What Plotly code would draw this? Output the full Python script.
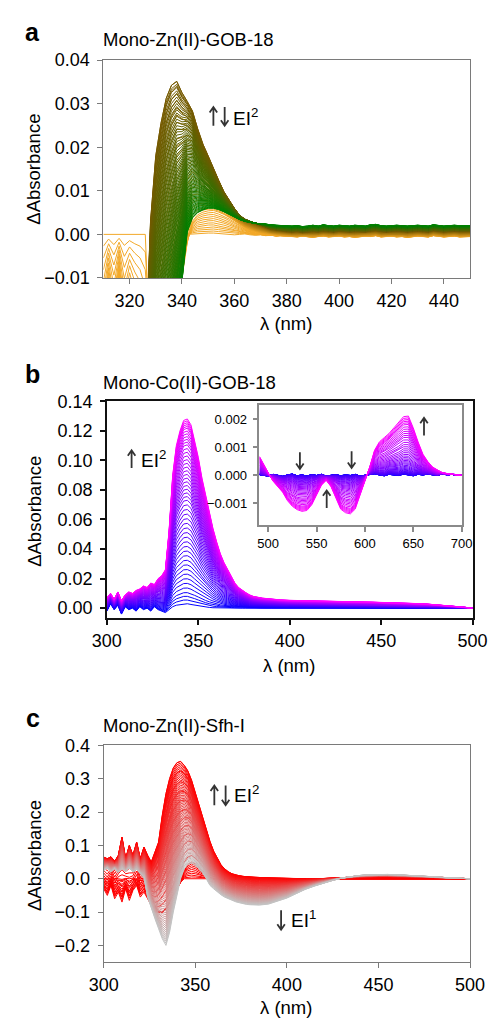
import plotly.graph_objects as go

W, H = 502, 1027
FONT = "Liberation Sans, Arial, Helvetica, sans-serif"

# ---------------- Panel a : Mono-Zn(II)-GOB-18 ----------------
wl_a = list(range(310, 451, 2))

a_orange_first = [
    0.0, 0.0, 0.0, 0.0, 0.0, 0.0, 0.0, 0.0,
    0.0, -0.030, -0.040, -0.030, -0.020, -0.012, -0.006, -0.002,
    0.0, 0.0001, 0.0002, 0.0002, 0.0003, 0.0003, 0.0002, 0.0001,
    0.0, -0.0001, 0.0, 0.0001, -0.0001, -0.0002, -0.0001, -0.0003,
    -0.0002, -0.0004, -0.0002, -0.0003,
    -0.0002, -0.0001, -0.0003, -0.0002, -0.0001,
    -0.0002, 0.0, -0.0001, -0.0002, -0.0001,
    -0.0002, -0.0003, -0.0001, -0.0002, -0.0002,
    -0.0001, 0.0, -0.0002, -0.0003, -0.0002,
    -0.0001, -0.0002, -0.0003, -0.0002, -0.0001,
    -0.0002, -0.0003, 0.0, -0.0002, -0.0003,
    -0.0002, -0.0001, -0.0002, -0.0002, -0.0002,
]
a_orange_last = [
    -0.030, -0.012, -0.026, -0.010, -0.028, -0.016, -0.024, -0.030,
    -0.045, -0.060, -0.060, -0.050, -0.040, -0.030, -0.020, -0.010,
    -0.002, 0.0030, 0.0045, 0.0051, 0.0054, 0.0055, 0.0051, 0.0046,
    0.0039, 0.0031, 0.0023, 0.0016, 0.0010, 0.0006, 0.0003, 0.0001,
    -0.0001, -0.0002, -0.0003, -0.0004,
    -0.0005, -0.0006, -0.0004, -0.0005, -0.0007,
    -0.0005, -0.0004, -0.0006, -0.0005, -0.0004,
    -0.0006, -0.0005, -0.0007, -0.0005, -0.0004,
    -0.0005, -0.0003, -0.0006, -0.0005, -0.0004,
    -0.0006, -0.0005, -0.0007, -0.0005, -0.0004,
    -0.0005, -0.0006, -0.0003, -0.0005, -0.0006,
    -0.0005, -0.0004, -0.0006, -0.0005, -0.0005,
]
a_peak = [
    -0.060, -0.060, -0.060, -0.060, -0.060, -0.060, -0.060, -0.060,
    -0.030, 0.003, 0.018, 0.0255, 0.0312, 0.0342, 0.0351, 0.0325,
    0.0305, 0.0283, 0.0242, 0.0207, 0.0180, 0.0150, 0.0124, 0.0098,
    0.0078, 0.0060, 0.0044, 0.0035, 0.0030, 0.0026, 0.0022, 0.0017,
    0.0012, 0.0010, 0.0008, 0.0007,
    0.0006, 0.0007, 0.0005, 0.0006, 0.0007,
    0.0006, 0.0008, 0.0007, 0.0006, 0.0008,
    0.0007, 0.0006, 0.0007, 0.0007, 0.0006,
    0.0008, 0.0009, 0.0007, 0.0006, 0.0007,
    0.0008, 0.0007, 0.0006, 0.0007, 0.0008,
    0.0007, 0.0006, 0.0009, 0.0007, 0.0006,
    0.0007, 0.0008, 0.0007, 0.0007, 0.0007,
]
a_green = [
    -0.060, -0.060, -0.060, -0.060, -0.060, -0.060, -0.060, -0.060,
    -0.060, -0.058, -0.052, -0.046, -0.040, -0.032, -0.022, -0.0115,
    0.0005, 0.0038, 0.0050, 0.0056, 0.0060, 0.0060, 0.0057, 0.0052,
    0.0046, 0.0040, 0.0034, 0.0030, 0.0027, 0.0025, 0.0025, 0.0023,
    0.0022, 0.0021, 0.0020, 0.0020,
    0.0019, 0.0020, 0.0018, 0.0019, 0.0021,
    0.0019, 0.0022, 0.0020, 0.0019, 0.0021,
    0.0020, 0.0019, 0.0021, 0.0020, 0.0019,
    0.0022, 0.0023, 0.0020, 0.0019, 0.0020,
    0.0021, 0.0020, 0.0019, 0.0020, 0.0021,
    0.0020, 0.0019, 0.0022, 0.0020, 0.0019,
    0.0020, 0.0021, 0.0020, 0.0020, 0.0020,
]
a_orange_steps = [0.0, 0.09, 0.18, 0.27, 0.36, 0.45, 0.55, 0.64, 0.73, 0.82, 0.91, 1.0]
a_rise_steps = [0.03, 0.06, 0.10, 0.13, 0.17, 0.20, 0.24, 0.27, 0.31, 0.34,
                0.38, 0.41, 0.45, 0.48, 0.52, 0.55, 0.59, 0.62, 0.66, 0.69,
                0.73, 0.76, 0.80, 0.83, 0.86, 0.89, 0.92, 0.95, 0.98, 1.00]
a_decay_steps = [0.000, 0.012, 0.025, 0.038, 0.050, 0.063, 0.076, 0.089, 0.101, 0.114,
                 0.127, 0.140, 0.152, 0.165, 0.178, 0.191, 0.203, 0.216, 0.229, 0.242,
                 0.254, 0.267, 0.280, 0.293, 0.305, 0.318, 0.331, 0.344, 0.356, 0.369,
                 0.382, 0.395, 0.407, 0.420, 0.433, 0.446, 0.458, 0.471, 0.484, 0.497,
                 0.509, 0.522, 0.535, 0.548, 0.560, 0.573, 0.586, 0.599, 0.611, 0.624,
                 0.637, 0.650, 0.662, 0.675, 0.688, 0.701, 0.713, 0.726, 0.739, 0.752,
                 0.764, 0.777, 0.790, 0.803, 0.815, 0.828, 0.841, 0.854, 0.866, 0.879,
                 0.892, 0.904, 0.917, 0.930, 0.943, 0.955, 0.968, 0.981, 0.994, 1.000]
a_xticks = [320, 340, 360, 380, 400, 420, 440]
a_yticks = [-0.01, 0.0, 0.01, 0.02, 0.03, 0.04]
a_yticklabels = ["\u22120.01", "0.00", "0.01", "0.02", "0.03", "0.04"]

# ---------------- Panel b : Mono-Co(II)-GOB-18 ----------------
wl_b = list(range(300, 381, 2)) + list(range(385, 501, 5))
b_first = [
    -0.002, 0.003, -0.001, 0.002, -0.004,
    0.001, -0.001, 0.0, -0.002, 0.001,
    -0.001, 0.0, -0.002, 0.001, -0.001,
    -0.002, -0.003, -0.001, 0.001, 0.002,
    0.0025, 0.003, 0.003, 0.0025, 0.002,
    0.0015, 0.001, 0.0007, 0.0005, 0.0003,
    0.0002, 0.0001, 0.0, 0.0001, 0.0,
    0.0, 0.0001, 0.0, 0.0, 0.0,
    0.0,
    0.0, 0.0, 0.0, 0.0, 0.0, 0.0, 0.0, 0.0, 0.0, 0.0, 0.0, 0.0,
    0.0, 0.0, 0.0, 0.0, 0.0, 0.0, 0.0, 0.0, 0.0, 0.0, 0.0, 0.0,
]
b_last = [
    0.007, 0.010, 0.006, 0.011, 0.005,
    0.009, 0.011, 0.010, 0.012, 0.013,
    0.015, 0.014, 0.017, 0.016, 0.020,
    0.022, 0.026, 0.052, 0.090, 0.110,
    0.120, 0.127, 0.128, 0.124, 0.113,
    0.102, 0.088, 0.076, 0.064, 0.054,
    0.045, 0.037, 0.031, 0.026, 0.021,
    0.017, 0.014, 0.012, 0.0105, 0.009,
    0.008,
    0.0068, 0.0061, 0.0056, 0.0053, 0.0051,
    0.0049, 0.0047, 0.0046, 0.0045, 0.0044,
    0.0043, 0.0042, 0.0041, 0.0040, 0.0038,
    0.0036, 0.0034, 0.0031, 0.0028, 0.0024,
    0.0019, 0.0013, 0.0007, 0.0,
]
b_steps = [0.0, 0.02, 0.04, 0.06, 0.085, 0.11, 0.135, 0.16, 0.185, 0.21,
           0.235, 0.26, 0.285, 0.31, 0.335, 0.36, 0.385, 0.41, 0.435, 0.46,
           0.485, 0.51, 0.535, 0.56, 0.58, 0.60, 0.62, 0.64, 0.66, 0.68,
           0.70, 0.72, 0.74, 0.76, 0.78, 0.80, 0.82, 0.84, 0.86, 0.875,
           0.89, 0.905, 0.92, 0.935, 0.95, 0.96, 0.97, 0.98, 0.99, 1.0]
b_xticks = [300, 350, 400, 450, 500]
b_yticks = [0.0, 0.02, 0.04, 0.06, 0.08, 0.10, 0.12, 0.14]
b_yticklabels = ["0.00", "0.02", "0.04", "0.06", "0.08", "0.10", "0.12", "0.14"]

# inset (d-d bands)
wl_i = [491, 495] + list(range(500, 701, 5))
i_first = [
    0.00003, 0.00001, -0.00002, 0.00004, 0.0,
    -0.00003, 0.00002, 0.00005, -0.00001, 0.00002,
    -0.00002, 0.00003, 0.0, 0.00004, -0.00002,
    0.00001, 0.00003, -0.00001, 0.00002, 0.0,
    0.00004, -0.00002, 0.00001, 0.00003, 0.00006,
    0.00002, -0.00001, 0.00004, 0.00002, 0.0,
    0.00005, 0.00003, -0.00001, 0.00004, 0.00002,
    0.00005, 0.00003, 0.0, 0.00006, 0.00002,
    0.00004, 0.00001, 0.00003,
]
i_last = [
    0.00068, 0.00040, 0.00010, -0.00020, -0.00040,
    -0.00060, -0.00090, -0.00110, -0.00122, -0.00128,
    -0.00125, -0.00105, -0.00070, -0.00035, -0.00017,
    -0.00040, -0.00080, -0.00120, -0.00133, -0.00137,
    -0.00120, -0.00070, -0.00020, 0.00030, 0.00090,
    0.00120, 0.00135, 0.00150, 0.00170, 0.00190,
    0.00210, 0.00212, 0.00170, 0.00120, 0.00076,
    0.00050, 0.00030, 0.00020, 0.00010, 0.00007,
    0.00005, 0.00003, 0.0,
]
i_steps = [0.0, 0.0, 0.0001, 0.0002, 0.0006, 0.0013, 0.0025, 0.004, 0.006, 0.009,
           0.013, 0.018, 0.023, 0.030, 0.038, 0.047, 0.057, 0.069, 0.082, 0.097,
           0.114, 0.133, 0.153, 0.176, 0.195, 0.216, 0.238, 0.262, 0.287, 0.314,
           0.343, 0.373, 0.405, 0.439, 0.475, 0.512, 0.551, 0.593, 0.636, 0.670,
           0.705, 0.741, 0.779, 0.817, 0.857, 0.885, 0.913, 0.941, 0.970, 1.0]
i_xticks = [500, 550, 600, 650, 700]
i_yticks = [-0.001, 0.0, 0.001, 0.002]
i_yticklabels = ["\u22120.001", "0.000", "0.001", "0.002"]

# ---------------- Panel c : Mono-Zn(II)-Sfh-I ----------------
wl_c = list(range(300, 381, 2)) + list(range(385, 501, 5))
c_first = [
    0.0, 0.002, -0.001, 0.001, 0.0,
    -0.002, 0.001, 0.0, 0.002, -0.001,
    0.0, 0.001, -0.02, -0.05, -0.08,
    -0.10, -0.10, -0.09, -0.07, -0.05,
    -0.03, -0.01, 0.0, 0.0, 0.0,
    0.0, 0.0, 0.0, 0.0, 0.0,
    0.0, 0.0, 0.0, 0.0, 0.0,
    0.0, 0.0, 0.0, 0.0, 0.0,
    0.0,
    0.0, 0.0, 0.0, 0.0, 0.0, 0.0, 0.0, 0.0, 0.0, 0.0, 0.0, 0.0,
    0.0, 0.0, 0.0, 0.0, 0.0, 0.0, 0.0, 0.0, 0.0, 0.0, 0.0, 0.0,
]
c_hump = [
    -0.03, -0.05, -0.02, -0.06, -0.04,
    -0.07, -0.03, -0.065, -0.035, -0.02,
    -0.055, -0.04, -0.06, -0.08, -0.10,
    -0.10, -0.10, -0.09, -0.07, -0.05,
    -0.03, -0.005, 0.025, 0.043, 0.050,
    0.045, 0.036, 0.025, 0.013, 0.003,
    0.0, 0.0, 0.0, 0.0, 0.0,
    0.0, 0.0, 0.0, 0.0, 0.0,
    0.0,
    0.0, 0.0, 0.0, 0.0, 0.0, 0.0, 0.0, 0.0, 0.0, 0.0, 0.0, 0.0,
    0.0, 0.0, 0.0, 0.0, 0.0, 0.0, 0.0, 0.0, 0.0, 0.0, 0.0, 0.0,
]
c_peak = [
    0.065, 0.060, 0.066, 0.052, 0.070,
    0.125, 0.060, 0.100, 0.070, 0.110,
    0.060, 0.095, 0.070, 0.050, 0.080,
    0.110, 0.190, 0.255, 0.300, 0.332,
    0.348, 0.352, 0.340, 0.323, 0.295,
    0.258, 0.220, 0.180, 0.145, 0.112,
    0.083, 0.060, 0.042, 0.030, 0.021,
    0.015, 0.011, 0.009, 0.007, 0.006,
    0.005,
    0.003, 0.002, 0.001, 0.0, 0.0,
    0.0, 0.0, 0.001, 0.002, 0.003,
    0.004, 0.005, 0.006, 0.006, 0.006,
    0.006, 0.005, 0.005, 0.004, 0.003,
    0.002, 0.001, 0.0005, 0.0,
]
c_final = [
    0.025, 0.032, 0.020, 0.030, 0.018,
    0.030, 0.022, 0.032, 0.020, 0.028,
    0.015, 0.003, -0.055, -0.090, -0.120,
    -0.150, -0.180, -0.200, -0.160, -0.100,
    -0.050, 0.0, 0.030, 0.043, 0.047,
    0.040, 0.030, 0.017, 0.0, -0.020,
    -0.030, -0.040, -0.048, -0.055, -0.060,
    -0.065, -0.069, -0.072, -0.075, -0.077,
    -0.078,
    -0.079, -0.076, -0.068, -0.058, -0.045,
    -0.032, -0.022, -0.013, -0.005, 0.002,
    0.007, 0.010, 0.012, 0.013, 0.013,
    0.012, 0.011, 0.009, 0.008, 0.006,
    0.004, 0.003, 0.001, 0.0,
]
c_p1_steps = [0.0, 0.11, 0.22, 0.33, 0.44, 0.56, 0.67, 0.78, 0.89, 1.0]
c_p2_steps = [0.08, 0.16, 0.25, 0.33, 0.42, 0.50, 0.58, 0.67, 0.75, 0.83, 0.92, 1.0]
c_decay_steps = [0.000, 0.015, 0.029, 0.044, 0.058, 0.073, 0.087, 0.101, 0.116, 0.130,
                 0.145, 0.159, 0.174, 0.188, 0.203, 0.217, 0.232, 0.246, 0.261, 0.275,
                 0.290, 0.304, 0.319, 0.333, 0.348, 0.362, 0.377, 0.391, 0.406, 0.420,
                 0.435, 0.449, 0.464, 0.478, 0.493, 0.507, 0.522, 0.536, 0.551, 0.565,
                 0.580, 0.594, 0.609, 0.623, 0.638, 0.652, 0.667, 0.681, 0.696, 0.710,
                 0.725, 0.739, 0.754, 0.768, 0.783, 0.797, 0.812, 0.826, 0.841, 0.855,
                 0.870, 0.884, 0.899, 0.913, 0.928, 0.942, 0.957, 0.971, 0.986, 1.000]
c_xticks = [300, 350, 400, 450, 500]
c_yticks = [-0.2, -0.1, 0.0, 0.1, 0.2, 0.3, 0.4]
c_yticklabels = ["\u22120.2", "\u22120.1", "0.0", "0.1", "0.2", "0.3", "0.4"]

for arr in (a_orange_first, a_orange_last, a_peak, a_green):
    assert len(arr) == len(wl_a), len(arr)
for arr in (b_first, b_last):
    assert len(arr) == len(wl_b), len(arr)
for arr in (i_first, i_last):
    assert len(arr) == len(wl_i), len(arr)
assert len(i_steps) == len(b_steps)
for arr in (c_first, c_hump, c_peak, c_final):
    assert len(arr) == len(wl_c), len(arr)

# ---------------- helpers ----------------
ORANGE = (242, 168, 40)
BROWN = (118, 90, 0)
GREEN = (0, 128, 0)
BLUE = (0, 0, 255)
MAGENTA = (255, 0, 255)
RED = (255, 0, 0)
GREY = (195, 195, 195)


def blend(s0, s1, t):
    return [u + t * (v - u) for u, v in zip(s0, s1)]


def colour(c0, c1, t):
    return "rgb(%d,%d,%d)" % tuple(round(a + t * (b - a)) for a, b in zip(c0, c1))


fig = go.Figure()


def add(x, y, col, xa, ya, width=1.0):
    fig.add_trace(go.Scatter(x=x, y=y, mode="lines", line=dict(color=col, width=width),
                             xaxis=xa, yaxis=ya, showlegend=False, hoverinfo="skip"))


# panel a traces
for t in a_orange_steps:
    add(wl_a, blend(a_orange_first, a_orange_last, t), colour(ORANGE, ORANGE, t), "x", "y")
for t in a_rise_steps:
    add(wl_a, blend(a_orange_last, a_peak, t), colour(ORANGE, BROWN, t), "x", "y")
for t in a_decay_steps:
    add(wl_a, blend(a_peak, a_green, t), colour(BROWN, GREEN, t), "x", "y")

# panel b traces
n_b = len(b_steps)
for k, t in enumerate(b_steps):
    add(wl_b, blend(b_first, b_last, t), colour(BLUE, MAGENTA, k / (n_b - 1)), "x2", "y2")
for k, t in enumerate(i_steps):
    add(wl_i, blend(i_first, i_last, t), colour(BLUE, MAGENTA, k / (n_b - 1)), "x3", "y3")

# panel c traces
for t in c_p1_steps:
    add(wl_c, blend(c_first, c_hump, t), colour(RED, RED, t), "x4", "y4")
for t in c_p2_steps:
    add(wl_c, blend(c_hump, c_peak, t), colour(RED, RED, t), "x4", "y4")
for t in c_decay_steps:
    add(wl_c, blend(c_peak, c_final, t), colour(RED, GREY, t), "x4", "y4")


def dom_x(l, r):
    return [l / W, r / W]


def dom_y(top, bottom):
    return [1 - bottom / H, 1 - top / H]


def ax(color, lw, size, standoff, **kw):
    d = dict(showline=True, linecolor=color, linewidth=lw, mirror=True,
             ticks="outside", ticklen=5, tickwidth=lw, tickcolor=color,
             showgrid=False, zeroline=False, ticklabelstandoff=standoff,
             tickfont=dict(family=FONT, size=size, color="black"))
    d.update(kw)
    return d


GREY_AX = "#7a7a7a"
TS = 18   # main tick label size
IS = 13   # inset tick label size
fig.update_layout(
    width=W, height=H, margin=dict(l=0, r=0, t=0, b=0),
    paper_bgcolor="white", plot_bgcolor="white", showlegend=False,
    xaxis=ax(GREY_AX, 1.2, TS, 1, domain=dom_x(94, 484), anchor="y", range=[310, 450],
             tickvals=a_xticks),
    yaxis=ax(GREY_AX, 1.2, TS, 4, domain=dom_y(51, 273.3), anchor="x", range=[-0.01, 0.04],
             tickvals=a_yticks, ticktext=a_yticklabels),
    xaxis2=ax("#111111", 1.5, TS, 1, domain=dom_x(97.7, 486.7), anchor="y2", range=[300, 500],
              tickvals=b_xticks),
    yaxis2=ax("#111111", 1.5, TS, 4, domain=dom_y(399, 620), anchor="x2", range=[-0.0066, 0.14],
              tickvals=b_yticks, ticktext=b_yticklabels),
    xaxis3=ax("#8a8a8a", 1.5, IS, 1, domain=dom_x(260, 475.7), anchor="y3", range=[491, 700.7],
              tickvals=i_xticks),
    yaxis3=ax("#8a8a8a", 1.5, IS, 3, domain=dom_y(403.3, 525), anchor="x3", range=[-0.00176, 0.0025],
              tickvals=i_yticks, ticktext=i_yticklabels),
    xaxis4=ax(GREY_AX, 1.2, TS, 1, domain=dom_x(94.3, 484), anchor="y4", range=[300, 500],
              tickvals=c_xticks),
    yaxis4=ax(GREY_AX, 1.2, TS, 4, domain=dom_y(750, 971), anchor="x4", range=[-0.25, 0.4],
              tickvals=c_yticks, ticktext=c_yticklabels),
)


def note(text, x, y, size=18, xanchor="left", bold=False, angle=0, color="black"):
    fig.add_annotation(text=("<b>%s</b>" % text) if bold else text,
                       x=x / W, y=1 - y / H, xref="paper", yref="paper",
                       xanchor=xanchor, yanchor="middle", showarrow=False, textangle=angle,
                       font=dict(family=FONT, size=size, color=color))


def arrow(xc, ytop, ybot, up=True, color="#333333"):
    X = lambda p: "%.5f" % (p / W)
    Y = lambda p: "%.5f" % (1 - p / H)
    tip = ytop if up else ybot
    back = tip + 5.5 if up else tip - 5.5
    path = ("M %s,%s L %s,%s " % (X(xc), Y(ybot), X(xc), Y(ytop)) +
            "M %s,%s L %s,%s L %s,%s" % (X(xc - 4), Y(back), X(xc), Y(tip), X(xc + 4), Y(back)))
    fig.add_shape(type="path", path=path, xref="paper", yref="paper",
                  line=dict(color=color, width=1.8))


# panel letters and titles
note("a", 19, 22, size=25, xanchor="center", bold=True)
note("b", 19, 371, size=25, xanchor="center", bold=True)
note("c", 19, 722, size=25, xanchor="center", bold=True)
note("Mono-Zn(II)-GOB-18", 91, 30, size=18.5)
note("Mono-Co(II)-GOB-18", 91, 379.5, size=18.5)
note("Mono-Zn(II)-Sfh-I", 91, 730, size=18.5)

# axis titles
for yc in (162, 511, 862):
    note("\u0394Absorbance", 20, yc, xanchor="center", angle=-90, size=18.5)
note("\u03bb (nm)", 288, 320, xanchor="center", size=18.5)
note("\u03bb (nm)", 291, 669, xanchor="center", size=18.5)
note("\u03bb (nm)", 288, 1017, xanchor="center", size=18.5)

# process annotations (arrows drawn as thin strokes, labels as text)
arrow(211, 99, 118, up=True)
arrow(223, 99, 118, up=False)
note("EI<sup>2</sup>", 230, 109, size=19)

arrow(124, 449, 467, up=True)
note("EI<sup>2</sup>", 132, 458, size=19)

arrow(212, 791, 811, up=True)
arrow(224, 791, 811, up=False)
note("EI<sup>2</sup>", 231, 800, size=19)

arrow(283, 918, 938, up=False)
note("EI<sup>1</sup>", 291, 927, size=19)

arrow(303, 451, 468, up=False)
arrow(358, 450, 467, up=False)
arrow(331.5, 490, 508, up=True)
arrow(435, 416, 434, up=True)

fig.write_html(
    "out.html",
    config={"displayModeBar": False},
    post_script="document.body.style.margin='0px';document.body.style.padding='0px';"
                "document.documentElement.style.margin='0px';window.scrollTo(0,0);",
)
